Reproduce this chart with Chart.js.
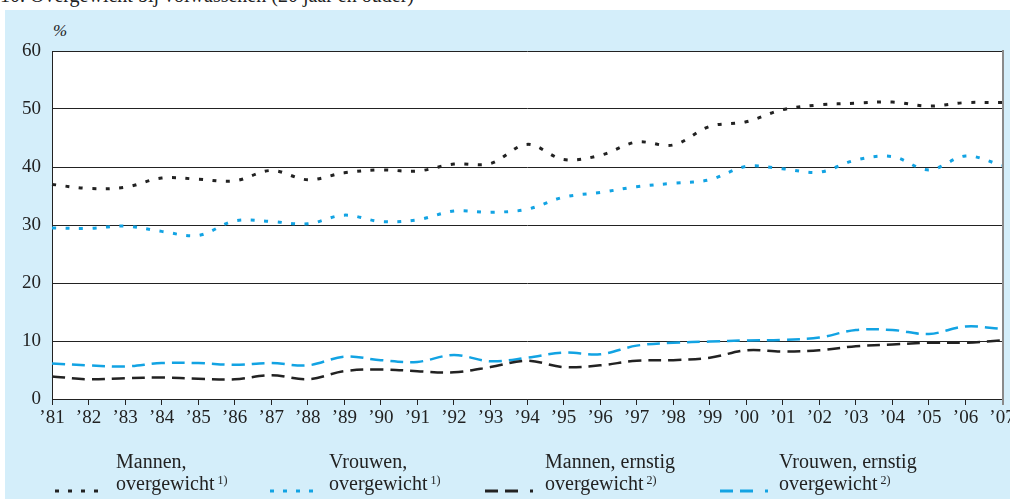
<!DOCTYPE html>
<html>
<head>
<meta charset="utf-8">
<script src="https://cdn.jsdelivr.net/npm/chart.js@4/dist/chart.umd.min.js"></script>
<style>
  body { margin: 0; width: 1010px; height: 499px; overflow: hidden; background: #fff; position: relative;
         font-family: "Liberation Serif", "DejaVu Serif", serif; color: #222; }
  #panel { position: absolute; left: 5px; top: 10px; width: 1005px; height: 489px; background: #d4eefa; }
  #title { position: absolute; left: 0; top: -16px; font-size: 20px; white-space: nowrap; }
  #unit { position: absolute; left: 53px; top: 21px; font-size: 17px; font-style: italic; }
  #wrap { position: absolute; left: 0; top: 0; width: 1010px; height: 499px; }
  .leg { position: absolute; top: 450px; font-size: 20px; line-height: 22px; white-space: nowrap; }
  .leg sup { font-size: 12px; vertical-align: 0; position: relative; top: -6px; margin-left: 3px; }
  .mark { position: absolute; top: 487px; }
</style>
</head>
<body>
<div id="title">10. Overgewicht bij volwassenen (20 jaar en ouder)</div>
<div id="panel"></div>
<div id="unit">%</div>
<div id="wrap"><canvas id="chart"></canvas></div>

<svg class="mark" style="left:55px" width="50" height="8"><line x1="0" y1="4" x2="50" y2="4" stroke="#222" stroke-width="3" stroke-dasharray="4 9"/></svg>
<div class="leg" style="left:116px">Mannen,<br>overgewicht<sup>1)</sup></div>
<svg class="mark" style="left:270px" width="50" height="8"><line x1="0" y1="4" x2="50" y2="4" stroke="#12a3e3" stroke-width="3" stroke-dasharray="4 9"/></svg>
<div class="leg" style="left:329px">Vrouwen,<br>overgewicht<sup>1)</sup></div>
<svg class="mark" style="left:485px" width="50" height="8"><line x1="0" y1="4" x2="50" y2="4" stroke="#222" stroke-width="3" stroke-dasharray="13 7 13 12 3 10"/></svg>
<div class="leg" style="left:545px">Mannen, ernstig<br>overgewicht<sup>2)</sup></div>
<svg class="mark" style="left:720px" width="50" height="8"><line x1="0" y1="4" x2="50" y2="4" stroke="#12a3e3" stroke-width="3" stroke-dasharray="13 7 13 12 3 10"/></svg>
<div class="leg" style="left:779px">Vrouwen, ernstig<br>overgewicht<sup>2)</sup></div>

<script>
const years = ['’81', '’82', '’83', '’84', '’85', '’86', '’87', '’88', '’89', '’90', '’91', '’92', '’93',
               '’94', '’95', '’96', '’97', '’98', '’99', '’00', '’01', '’02', '’03', '’04', '’05', '’06', '’07'];

const mannenOvergewicht = [37.0, 36.3, 36.5, 38.1, 37.9, 37.6, 39.4, 37.8, 39.0, 39.5, 39.3, 40.5, 40.6,
                           43.9, 41.3, 42.0, 44.3, 43.8, 47.0, 47.8, 49.9, 50.7, 51.0, 51.2, 50.5, 51.1, 51.1];
const vrouwenOvergewicht = [29.5, 29.4, 29.8, 28.9, 28.2, 30.7, 30.6, 30.2, 31.7, 30.6, 30.9, 32.4, 32.2,
                            32.7, 34.8, 35.6, 36.6, 37.2, 37.8, 40.1, 39.7, 39.1, 41.2, 41.8, 39.5, 41.9, 40.3];
const mannenErnstig = [3.9, 3.4, 3.6, 3.7, 3.5, 3.4, 4.1, 3.4, 4.8, 5.1, 4.8, 4.6, 5.5,
                       6.6, 5.5, 5.8, 6.6, 6.7, 7.1, 8.4, 8.2, 8.4, 9.1, 9.4, 9.7, 9.7, 10.1];
const vrouwenErnstig = [6.1, 5.8, 5.6, 6.2, 6.2, 5.9, 6.2, 5.8, 7.3, 6.7, 6.4, 7.6, 6.5,
                        7.1, 8.0, 7.7, 9.2, 9.7, 9.9, 10.1, 10.2, 10.6, 11.9, 11.9, 11.2, 12.5, 12.1];

const yTicks = [0, 10, 20, 30, 40, 50, 60];

const zwart = '#222222';
const blauw = '#12a3e3';
const dotted = [4, 9.5];
const dashed = [13, 7];

// witte achtergrond voor het plotgebied + grijze rechterrand
const plotBackground = {
    id: 'plotBackground',
    beforeDraw(chart) {
        const { ctx, chartArea: a } = chart;
        ctx.save();
        ctx.fillStyle = '#ffffff';
        ctx.fillRect(a.left, a.top, a.right - a.left, a.bottom - a.top);
        ctx.restore();
    },
    afterDraw(chart) {
        const { ctx, chartArea: a } = chart;
        ctx.save();
        ctx.strokeStyle = '#8a8a8a';
        ctx.lineWidth = 2;
        ctx.beginPath();
        ctx.moveTo(a.right + 1, a.top - 1);
        ctx.lineTo(a.right + 1, a.bottom + 6);
        ctx.stroke();
        ctx.restore();
    }
};

function lijn(label, data, kleur, dash, breedte) {
    return {
        label: label,
        data: data,
        borderColor: kleur,
        backgroundColor: kleur,
        borderWidth: breedte,
        borderDash: dash,
        pointRadius: 0,
        tension: 0.35,
        fill: false
    };
}

new Chart(document.getElementById('chart'), {
    type: 'line',
    data: {
        labels: years,
        datasets: [
            lijn('Mannen, overgewicht', mannenOvergewicht, zwart, dotted, 3),
            lijn('Vrouwen, overgewicht', vrouwenOvergewicht, blauw, dotted, 3),
            lijn('Mannen, ernstig overgewicht', mannenErnstig, zwart, dashed, 2.5),
            lijn('Vrouwen, ernstig overgewicht', vrouwenErnstig, blauw, dashed, 2.5)
        ]
    },
    options: {
        responsive: true,
        maintainAspectRatio: false,
        animation: false,
        layout: { padding: { top: 51, right: 8, bottom: 0, left: 0 } },
        plugins: {
            legend: { display: false },
            tooltip: { enabled: false }
        },
        scales: {
            x: {
                offset: false,
                grid: { drawOnChartArea: false, drawTicks: true, tickLength: 6, color: zwart },
                border: { display: true, color: zwart, width: 1 },
                ticks: {
                    autoSkip: false, maxRotation: 0, padding: 2, color: zwart,
                    font: { family: '"Liberation Serif", serif', size: 19 }
                },
                afterFit(s) { s.height = 100; s.paddingLeft = 0; s.paddingRight = 0; }
            },
            y: {
                min: 0,
                max: 60,
                afterBuildTicks(s) { s.ticks = yTicks.map(v => ({ value: v })); },
                grid: { color: zwart, lineWidth: 1, drawTicks: false },
                border: { display: true, color: zwart, width: 1 },
                ticks: {
                    padding: 11, color: zwart,
                    font: { family: '"Liberation Serif", serif', size: 19 }
                },
                afterFit(s) { s.width = 52; s.paddingTop = 0; s.paddingBottom = 0; }
            }
        }
    },
    plugins: [plotBackground]
});
</script>
</body>
</html>
